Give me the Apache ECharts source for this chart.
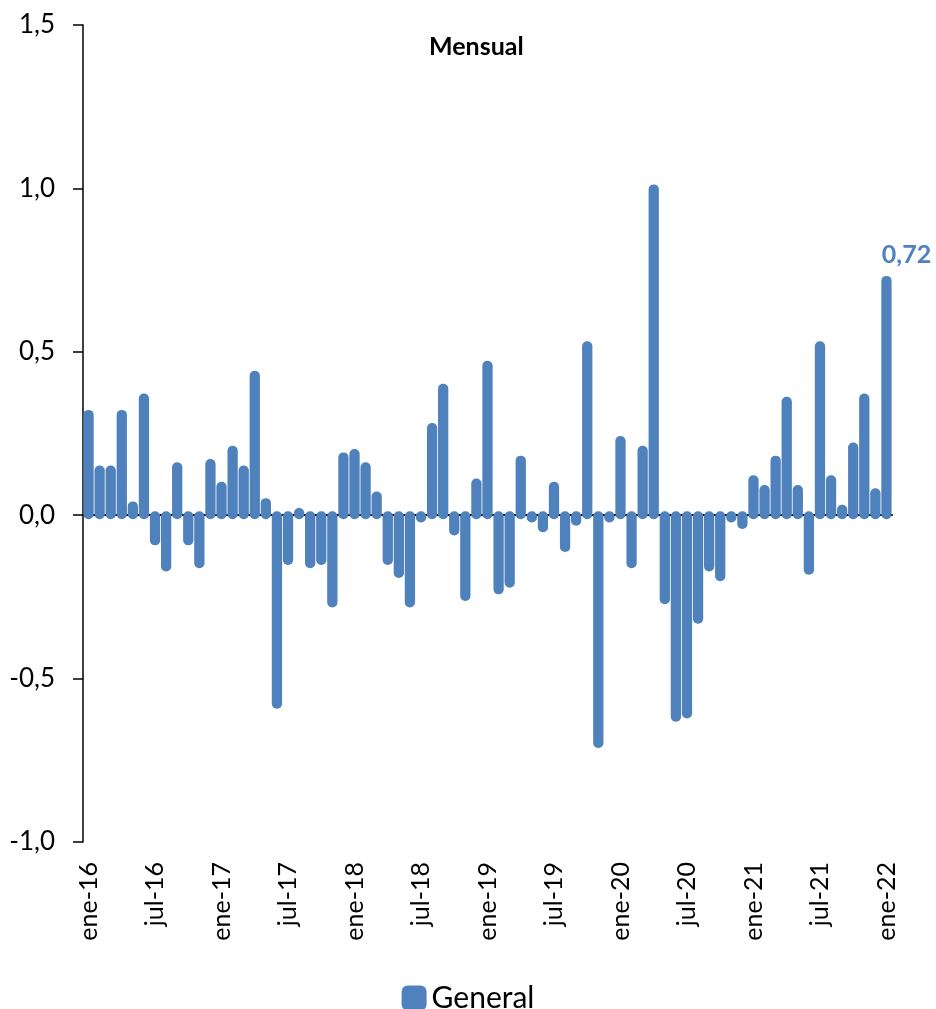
<!DOCTYPE html>
<html>
<head>
<meta charset="UTF-8">
<title>Mensual</title>
<style>
  html, body { margin: 0; padding: 0; background: #fff; }
  #main { width: 936px; height: 1009px; }
</style>
</head>
<body>
<div id="main"></div>
<script src="https://cdn.jsdelivr.net/npm/echarts@6/dist/echarts.min.js"></script>
<script>
// meses y años del eje
var meses = ['ene', 'feb', 'mar', 'abr', 'may', 'jun', 'jul', 'ago', 'sep', 'oct', 'nov', 'dic'];
var anios = ['16', '17', '18', '19', '20', '21', '22'];

// variación mensual, ene-16 .. ene-22
var general = [
  0.31, 0.14, 0.14, 0.31, 0.03, 0.36, -0.08, -0.16, 0.15, -0.08, -0.15, 0.16,
  0.09, 0.20, 0.14, 0.43, 0.04, -0.58, -0.14, 0.01, -0.15, -0.14, -0.27, 0.18,
  0.19, 0.15, 0.06, -0.14, -0.18, -0.27, -0.01, 0.27, 0.39, -0.05, -0.25, 0.10,
  0.46, -0.23, -0.21, 0.17, -0.01, -0.04, 0.09, -0.10, -0.02, 0.52, -0.70, -0.01,
  0.23, -0.15, 0.20, 1.00, -0.26, -0.62, -0.61, -0.32, -0.16, -0.19, -0.01, -0.03,
  0.11, 0.08, 0.17, 0.35, 0.08, -0.17, 0.52, 0.11, 0.02, 0.21, 0.36, 0.07,
  0.72
];

var categorias = [];
for (var a = 0; a < anios.length; a++) {
  for (var m = 0; m < meses.length; m++) {
    if (categorias.length < general.length) categorias.push(meses[m] + '-' + anios[a]);
  }
}

var azul = '#4F81BD';
var fuente = 'Lato';

function coma(v, dec) {
  return v.toFixed(dec).replace('.', ',');
}

// barras con extremos redondeados (como trazo grueso de Excel)
function dibujaBarra(params, api) {
  var i = api.value(0);
  var v = api.value(1);
  var p = api.coord([i, v]);
  var base = api.coord([i, 0]);
  var paso = api.coord([1, 0])[0] - api.coord([0, 0])[0];
  var ancho = paso - 0.8;
  var y1 = Math.min(p[1], base[1]) - 4;
  var y2 = Math.max(p[1], base[1]) + 4;
  var hijos = [{
    type: 'rect',
    shape: { x: p[0] - ancho / 2, y: y1, width: ancho, height: y2 - y1, r: 5 },
    style: { fill: azul }
  }];
  if (params.dataIndex === general.length - 1) {
    hijos.push({
      type: 'text',
      style: {
        text: coma(v, 2),
        x: p[0] + 20,
        y: y1 - 8,
        align: 'center',
        verticalAlign: 'bottom',
        fill: azul,
        font: 'bold 25px ' + fuente
      }
    });
  }
  return { type: 'group', children: hijos };
}

var myChart = echarts.init(document.getElementById('main'));

myChart.setOption({
  animation: false,
  backgroundColor: '#fff',
  title: {
    text: 'Mensual',
    left: 424,
    top: 29,
    textStyle: { fontFamily: fuente, fontWeight: 'bold', fontSize: 25, color: '#000' }
  },
  legend: {
    data: ['General'],
    left: 'center',
    top: 978,
    icon: 'roundRect',
    itemWidth: 25,
    itemHeight: 25,
    itemGap: 4,
    textStyle: { fontFamily: fuente, fontSize: 30, color: '#000', padding: [0, 0, 0, 0] }
  },
  grid: { left: 83, right: 44, top: 25, bottom: 167, containLabel: false },
  xAxis: [
    {
      type: 'category',
      data: categorias,
      boundaryGap: true,
      axisLine: { onZero: true, lineStyle: { color: '#000', width: 2 } },
      axisTick: { interval: 5, length: 9, lineStyle: { color: '#000', width: 2 } },
      axisLabel: { show: false },
      splitLine: { show: false }
    },
    {
      type: 'category',
      data: categorias,
      position: 'bottom',
      boundaryGap: true,
      axisLine: { show: false, onZero: false },
      axisTick: { show: false },
      axisLabel: {
        interval: 5,
        rotate: 90,
        margin: 20,
        fontFamily: fuente,
        fontSize: 25,
        color: '#000'
      },
      splitLine: { show: false }
    }
  ],
  yAxis: {
    type: 'value',
    min: -1,
    max: 1.5,
    interval: 0.5,
    axisLine: { show: true, lineStyle: { color: '#000', width: 1.5 } },
    axisTick: { show: true, length: 10, lineStyle: { color: '#000', width: 1.5 } },
    axisLabel: {
      margin: 28,
      fontFamily: fuente,
      fontSize: 26,
      color: '#000',
      formatter: function (v) { return coma(v, 1); }
    },
    splitLine: { show: false }
  },
  series: [
    {
      name: 'General',
      type: 'custom',
      xAxisIndex: 0,
      z: 1,
      itemStyle: { color: azul },
      encode: { x: 0, y: 1 },
      renderItem: dibujaBarra,
      data: general.map(function (v, i) { return [i, v]; })
    }
  ]
});

window.addEventListener('resize', function () { myChart.resize(); });
</script>
</body>
</html>
